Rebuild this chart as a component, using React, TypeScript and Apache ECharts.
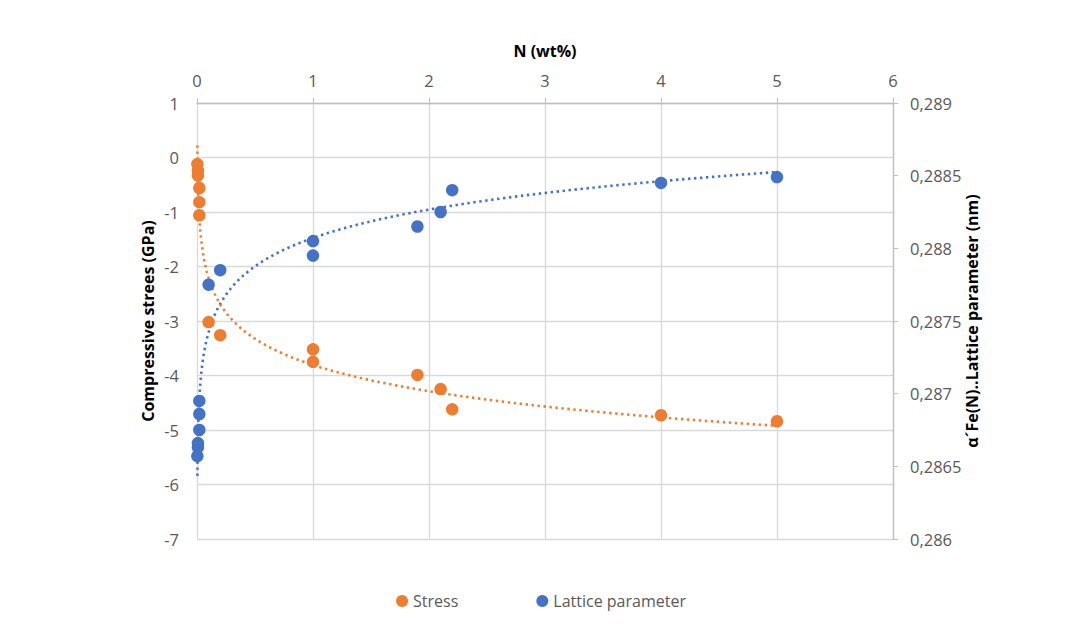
import React, { useEffect, useRef } from "react";
import * as echarts from "echarts";

// N (wt%) for each measurement
const nStress = [0.003, 0.008, 0.008, 0.02, 0.02, 0.02, 0.1, 0.2, 1, 1, 1.9, 2.1, 2.2, 4, 5];
// Compressive stress (GPa)
const stressValues = [-0.12, -0.24, -0.33, -0.56, -0.82, -1.06, -3.02, -3.26, -3.52, -3.75, -3.99, -4.25, -4.62, -4.73, -4.84];

const nLattice = [0.003, 0.008, 0.008, 0.02, 0.02, 0.02, 0.1, 0.2, 1, 1, 1.9, 2.1, 2.2, 4, 5];
// Lattice parameter (nm)
const latticeValues = [0.28657, 0.28663, 0.28666, 0.28675, 0.28686, 0.28695, 0.28775, 0.28785, 0.28805, 0.28795, 0.28815, 0.28825, 0.2884, 0.28845, 0.28849];

const xTicks = [0, 1, 2, 3, 4, 5, 6];
const leftTicks = [-7, -6, -5, -4, -3, -2, -1, 0, 1];
const rightTicks = [0.286, 0.2865, 0.287, 0.2875, 0.288, 0.2885, 0.289];

const ORANGE = "#ED7D31";
const BLUE = "#4472C4";
const FONT = "'Open Sans', 'Noto Sans', sans-serif";

// Logarithmic least-squares trendline (as Excel's "Logarithmic" trendline)
function logTrend(xs: number[], ys: number[], samples = 240): [number, number][] {
  const n = xs.length;
  const lx = xs.map((x) => Math.log(x));
  const mx = lx.reduce((s, v) => s + v, 0) / n;
  const my = ys.reduce((s, v) => s + v, 0) / n;
  let sxy = 0;
  let sxx = 0;
  for (let i = 0; i < n; i++) {
    sxy += (lx[i] - mx) * (ys[i] - my);
    sxx += (lx[i] - mx) * (lx[i] - mx);
  }
  const b = sxy / sxx;
  const a = my - b * mx;
  const lo = Math.log(Math.min(...xs));
  const hi = Math.log(Math.max(...xs));
  const out: [number, number][] = [];
  for (let i = 0; i <= samples; i++) {
    const t = lo + ((hi - lo) * i) / samples;
    out.push([Math.exp(t), a + b * t]);
  }
  return out;
}

export default function App() {
  const ref = useRef<HTMLDivElement>(null);

  useEffect(() => {
    if (!ref.current) return;
    const chart = echarts.init(ref.current, null, { renderer: "svg" });
    const stressPts = nStress.map((x, i) => [x, stressValues[i]]);
    const latticePts = nLattice.map((x, i) => [x, latticeValues[i]]);
    const dotted = { width: 2.6, type: [2.4, 3.6] as number[], cap: "butt" as const };
    const titleStyle = { color: "#000", fontWeight: "bold", fontSize: 16, fontFamily: FONT };

    chart.setOption({
      animation: false,
      backgroundColor: "#ffffff",
      textStyle: { fontFamily: FONT },
      grid: { left: 197, right: 189, top: 103, bottom: 97, containLabel: false },
      legend: {
        data: ["Stress", "Lattice parameter"],
        bottom: 22,
        left: "center",
        icon: "circle",
        itemWidth: 12,
        itemHeight: 12,
        itemGap: 78,
        textStyle: { color: "#595959", fontSize: 16, fontFamily: FONT },
      },
      xAxis: {
        type: "value",
        position: "top",
        min: xTicks[0],
        max: xTicks[xTicks.length - 1],
        interval: 1,
        name: "N (wt%)",
        nameLocation: "middle",
        nameGap: 44,
        nameMoveOverlap: false,
        nameTextStyle: titleStyle,
        axisLine: { show: true, onZero: false, lineStyle: { color: "#bfbfbf", width: 1.3 } },
        axisTick: { show: true, length: 5, lineStyle: { color: "#bfbfbf" } },
        axisLabel: { color: "#595959", fontSize: 16.5, margin: 14, fontFamily: FONT },
        splitLine: { show: true, lineStyle: { color: "#d9d9d9", width: 1.3 } },
      },
      yAxis: [
        {
          type: "value",
          position: "left",
          min: leftTicks[0],
          max: leftTicks[leftTicks.length - 1],
          interval: 1,
          name: "Compressive strees (GPa)",
          nameLocation: "middle",
          nameRotate: 90,
          nameGap: 41,
          nameMoveOverlap: false,
          nameTextStyle: titleStyle,
          axisLine: { show: false },
          axisTick: { show: false },
          axisLabel: { color: "#595959", fontSize: 16.5, margin: 18, fontFamily: FONT },
          splitLine: { show: true, lineStyle: { color: "#d9d9d9", width: 1.3 } },
        },
        {
          type: "value",
          position: "right",
          min: rightTicks[0],
          max: rightTicks[rightTicks.length - 1],
          interval: 0.0005,
          name: "α´Fe(N)..Lattice parameter (nm)",
          nameLocation: "middle",
          nameRotate: 90,
          nameGap: 71,
          nameMoveOverlap: false,
          nameTextStyle: titleStyle,
          axisLine: { show: true, onZero: false, lineStyle: { color: "#bfbfbf", width: 1.3 } },
          axisTick: { show: true, length: 5, lineStyle: { color: "#bfbfbf" } },
          axisLabel: {
            color: "#595959",
            fontSize: 16.5,
            margin: 17,
            fontFamily: FONT,
            formatter: (v: number) => String(+v.toFixed(4)).replace(".", ","),
          },
          splitLine: { show: false },
        },
      ],
      series: [
        {
          name: "Lattice trend",
          type: "line",
          yAxisIndex: 1,
          data: logTrend(nLattice, latticeValues),
          showSymbol: false,
          symbol: "none",
          lineStyle: { color: BLUE, ...dotted },
          z: 1,
          silent: true,
        },
        {
          name: "Stress trend",
          type: "line",
          yAxisIndex: 0,
          data: logTrend(nStress, stressValues),
          showSymbol: false,
          symbol: "none",
          lineStyle: { color: ORANGE, ...dotted },
          z: 1,
          silent: true,
        },
        {
          name: "Stress",
          type: "scatter",
          yAxisIndex: 0,
          data: stressPts,
          symbol: "circle",
          symbolSize: 12.5,
          itemStyle: { color: ORANGE, opacity: 1 },
          z: 3,
        },
        {
          name: "Lattice parameter",
          type: "scatter",
          yAxisIndex: 1,
          data: latticePts,
          symbol: "circle",
          symbolSize: 12.5,
          itemStyle: { color: BLUE, opacity: 1 },
          z: 3,
        },
      ],
    });
    return () => chart.dispose();
  }, []);

  return (
    <div
      ref={ref}
      style={{ position: "absolute", left: 0, top: 0, width: 1082, height: 636, background: "#fff" }}
    />
  );
}
